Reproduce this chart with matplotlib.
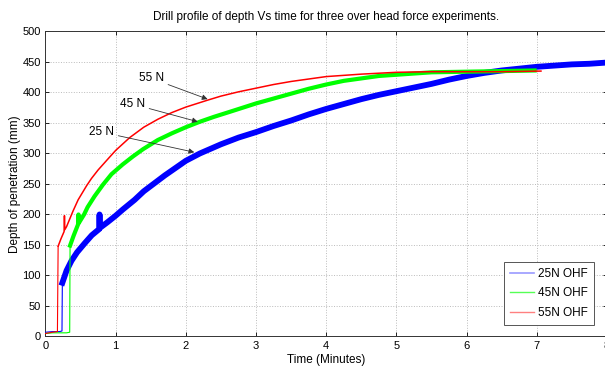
import matplotlib
matplotlib.use('Agg')
import matplotlib.pyplot as plt
from matplotlib.lines import Line2D

plt.rcParams['font.family'] = ['Liberation Sans', 'DejaVu Sans']

# ---- data (time in minutes, depth in mm) ----
blue_time = [0, 0.1, 0.2, 0.235, 0.24, 0.3, 0.37, 0.45, 0.56, 0.66, 0.765, 0.77, 0.775,
             0.88, 1.0, 1.1, 1.27, 1.4, 1.55, 1.7, 1.85, 2.0, 2.2, 2.5, 2.75, 3.0, 3.25,
             3.5, 3.75, 4.0, 4.25, 4.5, 4.75, 5.0, 5.25, 5.5, 5.75, 6.0, 6.25, 6.5, 6.75,
             7.0, 7.25, 7.5, 7.75, 8.0]
blue_depth = [7, 8, 8, 9, 88, 108, 124, 138, 153, 166, 176, 200, 178,
              187, 198, 208, 224, 238, 251, 264, 276, 288, 300, 315, 326, 335, 345,
              354, 364, 373, 381, 389, 396, 402, 408, 414, 421, 427, 432, 436, 439,
              442, 444, 446, 447, 449]

green_time = [0, 0.1, 0.2, 0.3, 0.345, 0.35, 0.4, 0.465, 0.47, 0.475, 0.55, 0.6, 0.7,
              0.82, 0.94, 1.1, 1.245, 1.39, 1.6, 1.8, 2.0, 2.2, 2.4, 2.62, 2.81, 3.0,
              3.25, 3.5, 3.75, 4.0, 4.25, 4.5, 4.75, 5.0, 5.25, 5.5, 6.0, 6.5, 6.97]
green_depth = [5, 6, 6, 6, 7, 149, 165, 184, 200, 186, 200, 212, 230,
               249, 266, 282, 295, 307, 322, 333, 343, 352, 360, 368, 375, 382,
               390, 398, 406, 413, 419, 423, 427, 429, 431, 433, 434, 435, 436]

red_time = [0, 0.1, 0.17, 0.18, 0.22, 0.265, 0.27, 0.275, 0.3, 0.39, 0.465, 0.585,
            0.655, 0.75, 0.89, 1.0, 1.2, 1.4, 1.6, 1.8, 2.0, 2.3, 2.5, 2.75, 3.0,
            3.25, 3.5, 4.0, 4.5, 5.0, 5.5, 6.0, 6.5, 7.06]
red_depth = [5, 7, 8, 148, 160, 172, 198, 175, 180, 205, 224, 247,
             259, 273, 291, 305, 326, 343, 356, 367, 376, 387, 394, 401, 407,
             413, 418, 426, 430, 433, 434, 434, 434, 435]

series_labels = ['25N OHF', '45N OHF', '55N OHF']
# index where the noisy (thick) drilling band starts
band_start = [4, 5, 3]

notes = ['55 N', '45 N', '25 N']
note_text_pos = [(1.51, 423), (1.24, 381), (0.80, 335)]
note_tip_pos = [(2.31, 389), (2.17, 352), (2.12, 302)]

fig = plt.figure(figsize=(6.05, 3.68), dpi=100)
ax = fig.add_axes([0.0752, 0.0856, 0.928, 0.829])

series = [(blue_time, blue_depth, '#0000ff', 4.2),
          (green_time, green_depth, '#00ff00', 3.0),
          (red_time, red_depth, '#ff0000', 1.1)]
for (t, d, c, lw), k in zip(series, band_start):
    ax.plot(t[:k + 1], d[:k + 1], color=c, lw=0.8, zorder=3)
    ax.plot(t[k:], d[k:], color=c, lw=lw, solid_joinstyle='round', zorder=3)

for txt, tp, tip in zip(notes, note_text_pos, note_tip_pos):
    ax.annotate(txt, xy=tip, xytext=tp, fontsize=8.5, ha='center', va='center',
                arrowprops=dict(arrowstyle='-|>', color='#333333', lw=0.6,
                                mutation_scale=8, shrinkA=1, shrinkB=0), zorder=5)

ax.set_xlim(0, 8)
ax.set_ylim(0, 500)
ax.set_xticks(range(0, 9))
ax.set_yticks(range(0, 501, 50))
ax.grid(True, linestyle=':', color='#bbbbbb', lw=0.7)
ax.tick_params(direction='in', top=True, right=True, labelsize=8, length=3, width=0.6)
for s in ax.spines.values():
    s.set_linewidth(0.7)
    s.set_color('#333333')

ax.set_title('Drill profile of depth Vs time for three over head force experiments.',
             fontsize=8.5, pad=8)
ax.set_xlabel('Time (Minutes)', fontsize=8.5, labelpad=2)
ax.set_ylabel('Depth of penetration (mm)', fontsize=8.5, labelpad=1)

handles = [Line2D([], [], color='#9a9aff', lw=1.2),
           Line2D([], [], color='#55ff55', lw=1.0),
           Line2D([], [], color='#ff8080', lw=1.0)]
leg = ax.legend(handles, series_labels, loc='lower right', bbox_to_anchor=(0.982, 0.117),
                bbox_transform=fig.transFigure, borderaxespad=0, fontsize=8.5,
                fancybox=False, framealpha=1, edgecolor='#555555', handlelength=2.0,
                labelspacing=0.65, borderpad=0.5, handletextpad=0.4)
leg.get_frame().set_linewidth(0.7)

fig.savefig('out.png', dpi=100)
